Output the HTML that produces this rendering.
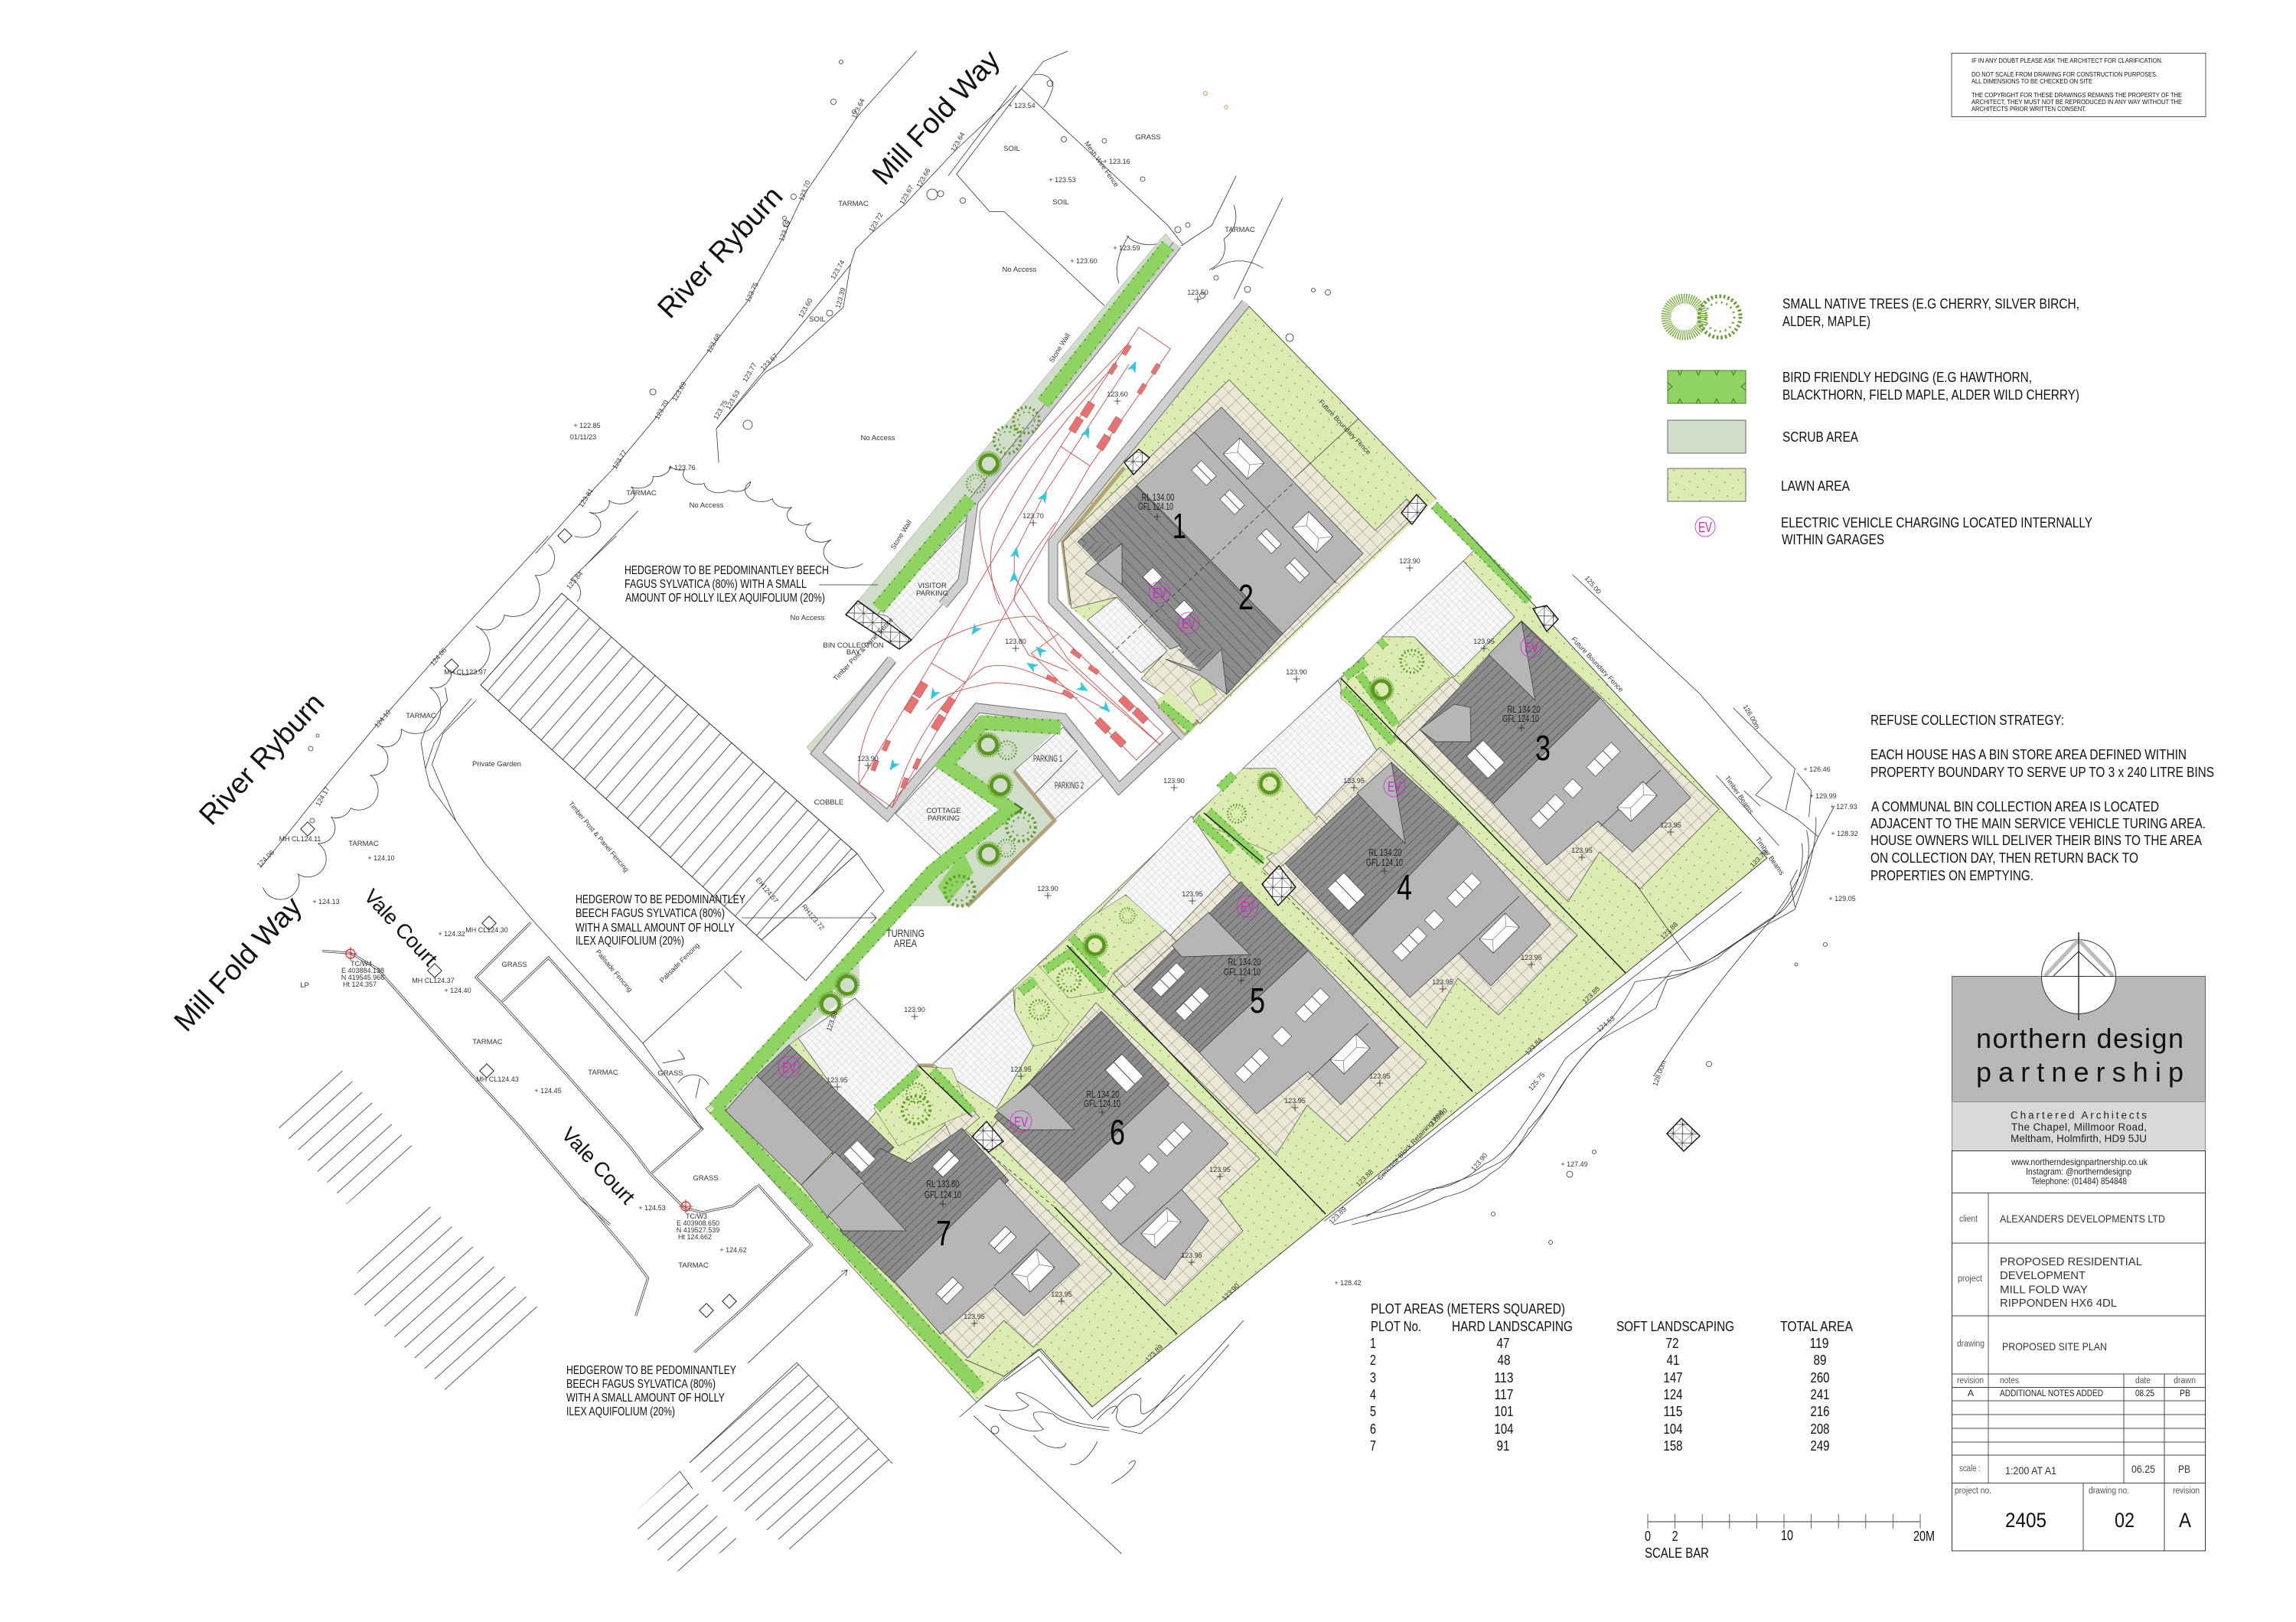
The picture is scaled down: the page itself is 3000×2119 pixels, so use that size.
<!DOCTYPE html>
<html lang="en"><head><meta charset="utf-8"><title>Proposed Site Plan</title>
<style>
html,body{margin:0;padding:0;background:#fff}
svg{display:block}
text{font-family:"Liberation Sans",sans-serif;fill:#111}
.s{font-size:9px;fill:#333;text-anchor:middle}
.t{font-size:9.5px;fill:#333;text-anchor:middle}
.rl{font-size:12.5px;fill:#222;text-anchor:middle}
.b{font-size:18.5px;fill:#111}
.c{font-size:16px;fill:#111}
.lb{font-size:11.5px;fill:#555}
.tt{font-size:14px;fill:#333}
.big{font-size:37.5px;fill:#111;text-anchor:middle}
.vc{font-size:27px;fill:#111;text-anchor:middle}
.num{font-size:46px;fill:#000;text-anchor:middle}
.ev{font-size:18px;fill:#d524c8;text-anchor:middle}
.l{fill:none;stroke:#333;stroke-width:.8;vector-effect:non-scaling-stroke}
.dk{fill:none;stroke:#333;stroke-width:3;vector-effect:non-scaling-stroke}
.dw{fill:none;stroke:#fff;stroke-width:1.5;vector-effect:non-scaling-stroke}
.r{fill:none;stroke:#d44a4a;stroke-width:.9;vector-effect:non-scaling-stroke}
.fence{fill:none;stroke:#111;stroke-width:1.4}
.thin{fill:none;stroke:#333;stroke-width:.8}
.wb{fill:none;stroke:#6e6e6e;stroke-width:13;stroke-linejoin:miter}
.wf{fill:none;stroke:#cfcfcf;stroke-width:11;stroke-linejoin:miter}
.li{fill:#b6b6b6;stroke:#333;stroke-width:.7}
.dr{fill:url(#sd);stroke:#333;stroke-width:.7}
.pv{fill:url(#pave);stroke:#444;stroke-width:.7}
.gr{fill:url(#grid);stroke:#444;stroke-width:.7}
.xh{fill:url(#xh);stroke:#111;stroke-width:1.4}
.evc{fill:none;stroke:#d524c8;stroke-width:.8}
</style></head><body>
<svg xmlns="http://www.w3.org/2000/svg" width="3000" height="2119" viewBox="0 0 3000 2119">
<defs>
<pattern id="lawn" width="18" height="18" patternUnits="userSpaceOnUse" patternTransform="rotate(-10)"><rect width="18" height="18" fill="#dcebb1"/><circle cx="4" cy="4" r=".9" fill="#6f9a4e"/><circle cx="13" cy="13" r=".9" fill="#6f9a4e"/></pattern>
<pattern id="pave" width="14" height="14" patternUnits="userSpaceOnUse" patternTransform="rotate(-44)"><rect width="14" height="14" fill="#ebe8d6"/><path d="M0 0H14M0 0V14" stroke="#6a6a6a" stroke-width=".7"/></pattern>
<pattern id="grid" width="7" height="7" patternUnits="userSpaceOnUse" patternTransform="rotate(-44)"><rect width="7" height="7" fill="#f8f8f8"/><path d="M0 0H7M0 0V7" stroke="#b4b4b4" stroke-width=".6"/></pattern>
<pattern id="sd" width="20" height="8" patternUnits="userSpaceOnUse" patternTransform="rotate(-44)"><rect width="20" height="8" fill="#8c8c8c"/><path d="M0 0H20" stroke="#3a3a3a" stroke-width="1"/></pattern>
<pattern id="se" width="20" height="11" patternUnits="userSpaceOnUse" patternTransform="rotate(46)"><rect width="20" height="11" fill="#8c8c8c"/><path d="M0 0H20" stroke="#3a3a3a" stroke-width="1"/></pattern>
<pattern id="ha" width="40" height="19" patternUnits="userSpaceOnUse" patternTransform="rotate(-42)"><path d="M0 9H40" stroke="#222" stroke-width=".8"/></pattern>
<pattern id="hb" width="40" height="19" patternUnits="userSpaceOnUse" patternTransform="rotate(-49)"><path d="M0 9H40" stroke="#222" stroke-width=".8"/></pattern>
<pattern id="xh" width="17" height="17" patternUnits="userSpaceOnUse" patternTransform="rotate(-44)"><rect width="17" height="17" fill="#fff"/><path d="M0 0L17 17M17 0L0 17M0 0H17M0 0V17" stroke="#222" stroke-width=".7"/></pattern>
<path id="p" d="M-4.5 0H4.5M0-4.5V4.5" stroke="#222" stroke-width=".8" fill="none"/>
<rect id="dm" x="-6.5" y="-6.5" width="13" height="13" fill="#fff" stroke="#222" transform="rotate(45)"/>
<g id="rt"><circle r="6" fill="none" stroke="#d22" stroke-width="1.2"/><path d="M-9 0H9M0-9V9" stroke="#d22" stroke-width="1"/></g>
<rect id="car" x="-10" y="-5" width="20" height="10" fill="#e57373" stroke="#c05050" stroke-width=".5"/>
<rect id="cs" x="-7" y="-3" width="14" height="6" fill="#e57373" stroke="#c05050" stroke-width=".5"/>
<path id="ar" d="M0-8L6 7L0 3L-6 7Z" fill="#2fcadb"/>
<g id="t1"><circle r="15" fill="none" stroke="#6aa62a" stroke-width="3.5" stroke-dasharray="1 1.2"/><circle r="11.5" fill="none" stroke="#5a9620" stroke-width="4.5"/></g>
<g id="t2"><circle r="14" fill="none" stroke="#5f9c2c" stroke-width="3" stroke-dasharray="2 2.6"/><circle r="9" fill="none" stroke="#6da53a" stroke-width="1.6" stroke-dasharray="2 3.5"/></g>
<g id="hip"><rect x="-24" y="-13" width="48" height="26" fill="#fff" stroke="#333" stroke-width=".7"/><path d="M-24-13L-12 0L-24 13M24-13L12 0L24 13M-12 0H12" stroke="#444" stroke-width=".5" fill="none"/></g>
<g id="rl2"><rect x="-14" y="-9" width="28" height="18" fill="#fff" stroke="#333" stroke-width=".6"/><path d="M-14 0H14" stroke="#333" stroke-width=".8"/></g>
<g id="rl3"><rect x="-23" y="-8.5" width="46" height="17" fill="#fff" stroke="#333" stroke-width=".6"/><path d="M-7.5-8.5V8.5M7.5-8.5V8.5" stroke="#333" stroke-width=".8"/></g>
<g id="rl1"><rect x="-9" y="-9" width="18" height="18" fill="#fff" stroke="#333" stroke-width=".6"/></g>
<g id="rld"><rect x="-20" y="-15" width="40" height="30" fill="#fff" stroke="#333" stroke-width=".6"/><path d="M-20 0H20" stroke="#333" stroke-width=".9"/></g>
<path id="hgA" d="M1526 321L1363 527M1268 652L1147 795M934 1448L1219 1138L1321 1057L1235 999L1284 944L1386 950M934 1448L1280 1815" fill="none"/>
<path id="hgB" d="M1146 1448L1200 1399M1219 1399L1270 1453M1334 1296L1353 1281M1366 1267L1404 1241M1394 1241L1442 1293M1400 1224L1445 1273M1563 1069L1611 1112M1579 1060L1649 1126M1594 1030L1612 1012M1755 901L1821 970M1758 884L1785 864M1776 881L1824 947M1803 844L1810 838M1517 920L1558 953M1874 660L1998 785" fill="none"/>
</defs>
<rect width="3000" height="2119" fill="#fff"/>

<!-- hatched neighbouring buildings -->
<polygon points="734,775 628,895 995,1228 1120,1115" fill="url(#hb)" stroke="#222" stroke-width=".9"/>
<path class="thin" d="M1120 1115L1155 1164L1053 1281L995 1228"/>
<polygon points="438,1389 355,1463 453,1573 539,1498" fill="url(#ha)"/>
<polygon points="551,1566 452,1680 593,1828 708,1713" fill="url(#ha)"/>
<polygon points="1041,1780 901,1911 1035,2027 1166,1912" fill="url(#ha)"/>
<polygon points="888,1922 821,1984 885,2053 968,2017" fill="url(#ha)"/>
<path class="thin" d="M1041 1780L1166 1912M901 1911L1041 1780M888 1922L905 1945"/>

<!-- survey lines, top -->
<g transform="translate(700 40) scale(.6378 .4464)">
<polyline class="l" points="780,60 660,250 545,490 505,610 435,790 355,935 280,1075 160,1280 90,1385 0,1530"/>
<polyline class="l" points="1090,60 1040,90 995,170 860,350 755,510 690,590 655,640 645,685 370,1165 375,1265"/>
<polyline class="l" points="645,685 630,810 510,965 470,1000 370,1165"/>
<polyline class="l" points="995,170 862,420 930,530 960,530 1165,805"/>
<polyline class="l" points="985,160 845,425"/>
<polyline class="l" points="995,170 1295,570 1325,625"/>
<polyline class="l" points="1435,425 1385,570 1322,630"/>
<polyline class="l" points="1530,490 1430,785"/>
<path class="l" d="M1020 130Q1055 120 1060 165Q1050 210 1040 225M1430 510Q1445 570 1410 610Q1420 670 1380 700M1385 700Q1440 650 1490 695M1215 600Q1180 680 1195 740M1210 600Q1240 640 1285 620"/>
<path class="l" d="M80 1480A30 30 0 0 0 110 1410A30 30 0 0 0 150 1375A30 30 0 0 0 195 1335A30 30 0 0 0 240 1305A30 30 0 0 0 275 1275A28 28 0 0 0 305 1285A30 30 0 0 0 345 1325A30 30 0 0 0 395 1345A30 30 0 0 0 440 1320A30 30 0 0 0 485 1370A30 30 0 0 0 525 1395A30 30 0 0 0 565 1440A30 30 0 0 0 605 1490A36 36 0 0 0 670 1560"/>
<polyline class="l" points="210,1405 100,1568"/>
</g>
<g fill="none" stroke="#333" stroke-width=".8">
<circle cx="1099" cy="81" r="2.5"/><circle cx="1089" cy="133" r="3.5"/><circle cx="1116" cy="146" r="2.5"/><circle cx="1037" cy="257" r="3.5"/><circle cx="1025" cy="285" r="2.5"/><circle cx="1027" cy="292" r="4"/><circle cx="1084" cy="409" r="4"/><circle cx="977" cy="555" r="6"/><circle cx="853" cy="512" r="4"/><circle cx="1218" cy="254" r="7"/><circle cx="1229" cy="253" r="4"/><circle cx="1258" cy="262" r="3.5"/><circle cx="1390" cy="182" r="3.5"/><circle cx="1443" cy="184" r="3"/><circle cx="1493" cy="234" r="3"/><circle cx="1539" cy="300" r="4"/><circle cx="1552" cy="294" r="3"/><circle cx="1372" cy="109" r="4"/><circle cx="1630" cy="378" r="4"/><circle cx="1685" cy="441" r="5"/><circle cx="408" cy="1072" r="3"/><circle cx="406" cy="978" r="3"/><circle cx="415" cy="961" r="2"/>
<circle cx="1571" cy="386" r="3.5"/><circle cx="1589" cy="363" r="3"/><circle cx="1716" cy="379" r="2.5"/><circle cx="1735" cy="382" r="3.5"/>
<circle cx="2233" cy="1390" r="3.5"/><circle cx="2051" cy="1534" r="4"/><circle cx="2083" cy="1505" r="2.5"/><circle cx="2026" cy="1623" r="2.5"/><circle cx="1951" cy="1586" r="2.5"/>
<circle cx="2385" cy="1234" r="2.5"/><circle cx="2347" cy="1260" r="2"/><circle cx="1300" cy="1868" r="5"/>
</g>
<circle cx="1575" cy="122" r="2.5" fill="none" stroke="#d09a40"/><circle cx="1602" cy="140" r="2.2" fill="none" stroke="#d09a40"/>

<!-- survey lines, left -->
<g transform="translate(200 700) scale(.574)">
<polyline class="l" points="900,0 633,290 505,435 370,598 245,755"/>
<path class="l" d="M250 800A40 40 0 0 0 330 770A38 38 0 0 0 375 700A36 36 0 0 0 405 640A36 36 0 0 0 450 620A44 44 0 0 0 495 545A36 36 0 0 0 510 475A36 36 0 0 0 565 440A50 50 0 0 0 630 345A40 40 0 0 0 680 310A56 56 0 0 0 735 205A40 40 0 0 0 800 180A60 60 0 0 0 870 90A40 40 0 0 0 900 20"/>
<path class="l" d="M950 100A30 30 0 0 1 965 150M950 100L1055 0"/>
<polyline class="dk" points="385,945 450,950 510,985 710,1210 835,1345 975,1510 1040,1568"/><polyline class="dw" points="385,945 450,950 510,985 710,1210 835,1345 975,1510 1040,1568"/>
<polyline class="dk" points="860,880 735,1005 790,1060 940,1225 1085,1390 1130,1450 1210,1530 1250,1540 1320,1525 1375,1480"/><polyline class="dw" points="860,880 735,1005 790,1060 940,1225 1085,1390 1130,1450 1210,1530 1250,1540 1320,1525 1375,1480"/>
<polyline class="dk" points="795,1060 900,960 985,1055 1140,1230 1250,1350 1135,1450"/><polyline class="dw" points="795,1060 900,960 985,1055 1140,1230 1250,1350 1135,1450"/>
<polyline class="l" points="725,370 640,470 620,530 630,570 690,650 755,745 860,870 1115,1155 1250,1350"/>
<polyline class="l" points="735,375 660,450 635,520 690,650"/>
<polyline class="l" points="665,345 670,375 620,440 610,470 620,530"/>
<polyline class="l" points="1115,1155 1340,945"/>
<polyline class="l" points="1300,990 1340,1030"/>
<path class="l" d="M1160 1200L1210 1190A50 50 0 0 0 1195 1170M1195 1245A40 40 0 0 1 1265 1250M1235 1280L1245 1235"/>
</g>
<g transform="translate(700 1500) scale(.6378 .3948)">
<polyline class="dk" points="95,165 195,355 230,430 205,555"/><polyline class="dw" points="95,165 195,355 230,430 205,555"/>
<polyline class="dk" points="455,120 565,320 520,385 425,530 325,675"/><polyline class="dw" points="455,120 565,320 520,385 425,530 325,675"/>
</g>

<!-- lawn areas -->
<polygon points="922,1448 1043,1356 1117,1304 1200,1390 1219,1390 1912,733 1925,720 1900,677 2309,1121 1427,1838 1360,1762 1312,1798 1276,1832" fill="url(#lawn)" stroke="#555" stroke-width=".7"/>
<polygon points="1633,400 1877,652 1568,948 1396,790 1385,708" fill="url(#lawn)"/>
<path class="thin" d="M1628 396L1877 652"/>

<!-- scrub -->
<polygon points="1523,305 1533,318 1268,650 1274,664 1147,802 1121,785" fill="#d0ddc9" stroke="#889" stroke-width=".5"/>
<polygon points="1281,938 1386,948 1325,1007 1378,1072 1264,1184 1187,1184 1123,1247 1123,1287 1031,1365 948,1451 925,1448 1219,1138 1321,1057 1235,999" fill="#d0ddc9"/>
<polygon points="1163,858 1171,866 1067,990 1054,976" fill="#d0ddc9" stroke="#889" stroke-width=".5"/>
<polygon points="1225,1158 1258,1112 1272,1140 1239,1180" fill="#8fd463"/>

<!-- driveways -->
<g class="gr">
<polygon points="1043,1356 1117,1304 1200,1390 1126,1474"/>
<polygon points="1219,1390 1324,1293 1326,1321 1350,1367 1302,1448"/>
<polygon points="1429,1198 1557,1066 1608,1141 1535,1230 1471,1169"/>
<polygon points="1624,1004 1748,889 1809,999 1721,1070 1667,1004"/>
<polygon points="1806,832 1912,733 1979,806 1900,884 1848,832"/>
<polygon points="1421,810 1459,780 1529,848 1491,879"/>
<polygon points="1274,667 1258,759 1191,836 1159,805 1147,802"/>
<polygon points="1198,1032 1230,999 1319,1057 1241,1129 1170,1063"/>
<polygon points="1325,1007 1389,950 1443,1012 1379,1070"/>
</g>
<path class="thin" d="M1352 1037L1408 980"/>

<!-- walls -->
<polyline class="wb" points="1538,320 1272,655 1258,759 1232,790"/><polyline class="wf" points="1538,320 1272,655 1258,759 1232,790"/>
<polyline class="wb" points="1165,862 1067,984 1159,1065 1277,925 1389,938 1462,1030 1541,956"/><polyline class="wf" points="1165,862 1067,984 1159,1065 1277,925 1389,938 1462,1030 1541,956"/>
<polyline class="wb" points="1628,396 1376,708 1376,785 1548,963"/><polyline class="wf" points="1628,396 1376,708 1376,785 1548,963"/>
<path d="M1469 611L1389 708L1399 790M1510 915L1548 958L1568 940M1281 938L1386 948M1325 1007L1378 1072L1264 1184M1200 1392L1220 1392M1366 1263L1404 1226M1340 1290L1351 1280M1563 1065L1595 1038M1758 884L1785 862" fill="none" stroke="#b3a27d" stroke-width="5"/>

<!-- paving -->
<g class="pv">
<polygon points="1606,496 1797,693 1838,652 1855,668 1568,945 1548,925 1491,887 1525,850 1459,780 1400,795 1389,708"/>
<polygon points="1988,811 2246,1057 2143,1161 2090,1113 2049,1178 1835,970"/>
<polygon points="1803,976 2061,1222 1958,1326 1905,1278 1864,1343 1650,1135"/>
<polygon points="1606,1142 1864,1388 1761,1492 1708,1444 1667,1509 1453,1301"/>
<polygon points="1432,1310 1646,1514 1592,1565 1624,1608 1522,1706 1290,1480"/>
<polygon points="1245,1460 1453,1664 1350,1760 1312,1725 1264,1774 1085,1590 1100,1500 1126,1475 1174,1525"/>
<polygon points="1897,884 1912,899 1835,972 1818,958"/>
<polygon points="1723,1066 1738,1082 1670,1135 1655,1120"/>
<polygon points="1522,1215 1537,1230 1470,1290 1455,1272"/>
<polygon points="1200,1395 1225,1400 1280,1460 1245,1490"/>
</g>
<polygon points="1555,897 1574,882 1590,907 1568,922" fill="#dcebb1" stroke="#444" stroke-width=".5"/>
<polygon points="1510,915 1529,902 1564,938 1548,958" fill="#dcebb1"/>
<polygon points="1142,1448 1200,1393 1244,1396 1267,1453 1238,1465 1174,1497" fill="url(#lawn)" stroke="#444" stroke-width=".5"/>
<polygon points="1326,1293 1346,1276 1397,1336 1381,1359 1350,1367 1326,1321" fill="url(#lawn)" stroke="#444" stroke-width=".5"/>
<polygon points="1356,1261 1426,1198 1471,1169 1522,1215 1455,1270 1442,1296 1397,1304" fill="url(#lawn)" stroke="#444" stroke-width=".5"/>
<polygon points="1624,1004 1667,1004 1721,1070 1667,1116 1558,1070" fill="url(#lawn)" stroke="#444" stroke-width=".5"/>
<polygon points="1752,887 1806,832 1848,832 1894,884 1830,941 1818,970 1752,912" fill="url(#lawn)" stroke="#444" stroke-width=".5"/>

<!-- hedges -->
<use href="#hgA" stroke="#8fd463" stroke-width="19"/><use href="#hgA" stroke="#43702a" stroke-width="19.5" stroke-dasharray="1.2 9"/><use href="#hgA" stroke="#8fd463" stroke-width="15"/>
<use href="#hgB" stroke="#8fd463" stroke-width="12"/><use href="#hgB" stroke="#43702a" stroke-width="12.5" stroke-dasharray="1.2 7"/><use href="#hgB" stroke="#8fd463" stroke-width="8.5"/>

<!-- roofs plots 1-2 -->
<polygon class="li" points="1596,532 1781,723 1676,828 1485,634"/>
<polygon points="1485,634 1676,828 1603,907 1408,708" fill="url(#se)" stroke="#333" stroke-width=".7"/>
<polygon class="li" points="1418,749 1434,736 1466,764 1542,843 1529,848 1459,777"/>
<polygon points="1408,708 1466,710 1434,736" fill="url(#sd)"/>
<polygon class="li" points="1466,710 1466,764 1434,736"/>
<polygon points="1539,848 1596,848 1568,876" fill="url(#sd)"/>
<polygon class="li" points="1523,861 1568,876 1596,848 1603,907 1568,882"/>
<path class="thin" d="M1561 565L1746 762M1775 547L1692 624"/><path class="thin" stroke-dasharray="6 4" d="M1689 632L1453 853"/>
<use href="#rl2" transform="translate(1573 618) rotate(46)"/><use href="#rl2" transform="translate(1610 656) rotate(46)"/><use href="#rl2" transform="translate(1658 707) rotate(46)"/><use href="#rl2" transform="translate(1695 745) rotate(46)"/>
<use href="#rl1" transform="translate(1506 754) rotate(46)"/><use href="#rl1" transform="translate(1547 797) rotate(46)"/>
<use href="#hip" transform="translate(1625 599) rotate(46) scale(.95 1.15)"/><use href="#hip" transform="translate(1715 695) rotate(46) scale(.95 1.15)"/>

<!-- plot 3 -->
<polygon class="dr" points="1855,953 1988,812 2091,912 1951,1050"/>
<polygon class="li" points="2091,912 2209,1042 2133,1113 2088,1073 2021,1130 1951,1050"/>
<polygon class="li" points="1945,855 1988,812 2006,915"/>
<polygon class="li" points="1855,953 1900,920 1921,924 1922,969 1876,969"/>
<path class="thin" d="M2170 1006L2091 1080"/>
<!-- plot 4 -->
<polygon class="dr" points="1679,1128 1818,996 1906,1076 1767,1222"/>
<polygon class="li" points="1906,1076 2026,1208 1948,1288 1906,1245 1842,1303 1767,1222"/>
<polygon class="li" points="1773,1036 1818,996 1836,1102"/>
<path class="thin" d="M1985 1171L1906 1245"/>
<!-- plot 5 -->
<polygon class="dr" points="1481,1293 1621,1152 1709,1242 1567,1375"/>
<polygon class="li" points="1709,1242 1827,1369 1752,1443 1709,1400 1642,1455 1567,1375"/>
<polygon class="li" points="1531,1235 1579,1192 1633,1247 1544,1250"/>
<path class="thin" d="M1788 1337L1709 1411"/>
<!-- plot 6 -->
<polygon class="dr" points="1299,1459 1439,1321 1528,1416 1391,1545"/>
<polygon class="li" points="1526,1418 1605,1494 1544,1554 1579,1594 1522,1672 1464,1626 1391,1545"/>
<polygon class="li" points="1302,1451 1346,1416 1404,1476 1334,1476"/>
<path class="thin" d="M1544 1554L1464 1626"/>
<!-- plot 7 -->
<polygon class="dr" points="989,1405 1031,1365 1168,1499 1123,1545"/>
<polygon class="dr" points="1098,1608 1168,1675 1318,1542 1257,1474 1190,1520 1150,1500 1100,1555"/>
<polygon class="li" points="948,1451 989,1405 1088,1505 1047,1548"/>
<polygon class="li" points="1047,1548 1091,1505 1130,1545 1082,1591"/>
<polygon class="li" points="1082,1588 1126,1545 1184,1608 1101,1608"/>
<polygon class="li" points="1306,1539 1411,1652 1338,1719 1299,1682 1229,1743 1169,1674"/>
<path class="thin" d="M1372 1611L1299 1680"/>

<!-- roof lights and hips -->
<g>
<use href="#rl3" transform="translate(2095 992) rotate(-45)"/><use href="#rl1" transform="translate(2055 1030) rotate(-45)"/><use href="#rl3" transform="translate(2022 1060) rotate(-45)"/><use href="#rld" transform="translate(1941 992) rotate(46)"/><use href="#hip" transform="translate(2139 1047) rotate(-45)"/>
<use href="#rl3" transform="translate(1913 1163) rotate(-45)"/><use href="#rl1" transform="translate(1874 1202) rotate(-45)"/><use href="#rl3" transform="translate(1842 1233) rotate(-45)"/><use href="#rld" transform="translate(1759 1165) rotate(46)"/><use href="#hip" transform="translate(1959 1219) rotate(-45)"/>
<use href="#rl3" transform="translate(1715 1313) rotate(-45)"/><use href="#rl1" transform="translate(1675 1354) rotate(-45)"/><use href="#rl3" transform="translate(1636 1392) rotate(-45)"/><use href="#rl3" transform="translate(1527 1280) rotate(-45)"/><use href="#rl3" transform="translate(1558 1311) rotate(-45)"/><use href="#hip" transform="translate(1764 1377) rotate(-45)"/>
<use href="#rl3" transform="translate(1535 1488) rotate(-45)"/><use href="#rl1" transform="translate(1501 1520) rotate(-45)"/><use href="#rl3" transform="translate(1461 1560) rotate(-45)"/><use href="#rld" transform="translate(1469 1402) rotate(46)"/><use href="#hip" transform="translate(1517 1604) rotate(-45)"/>
<use href="#rl2" transform="translate(1310 1620) rotate(-45) scale(1.1)"/><use href="#rl2" transform="translate(1241 1686) rotate(-45) scale(1.1)"/><use href="#rl2" transform="translate(1236 1520) rotate(-45) scale(1.1)"/><use href="#rld" transform="translate(1123 1511) rotate(46) scale(.85)"/><use href="#hip" transform="translate(1350 1660) rotate(-45) scale(.95 1.3)"/>
</g>

<!-- plot dividers -->
<path class="fence" d="M1200 1392L1270 1459M1378 1577L1538 1743M1394 1235L1732 1586M1573 1062L1651 1128M1761 1254L1924 1426M1752 886L2124 1271"/>
<path class="thin" stroke-dasharray="5 4" d="M1283 1499L1378 1577M1651 1140L1761 1254"/>
<path class="thin" d="M1900 677L2309 1121L1427 1838L1360 1762L1312 1798L1261 1776M2136 1153L2209 1256"/>

<!-- bin stores -->
<g class="xh">
<polygon points="1469,604 1488,587 1502,598 1481,620"/>
<polygon points="1831,670 1851,646 1864,660 1845,685"/>
<polygon points="2003,795 2021,791 2036,809 2021,825"/>
<polygon points="1649,1155 1671,1131 1693,1159 1670,1183"/>
<polygon points="1270,1485 1289,1465 1311,1491 1292,1505"/>
<polygon points="2178,1481 2197,1461 2221,1484 2200,1504"/>
<polygon points="1121,785 1191,836 1175,848 1105,803"/>
</g>

<!-- trees -->
<g>
<use href="#t1" x="1292" y="606"/><use href="#t2" transform="translate(1275 632) scale(.85)"/><use href="#t2" transform="translate(1316 575) scale(1.25)"/><use href="#t2" transform="translate(1341 549) scale(1.2)"/>
<use href="#t1" x="1291" y="973"/><use href="#t2" transform="translate(1316 980) scale(.85)"/><use href="#t1" x="1307" y="1026"/><use href="#t2" transform="translate(1334 1080) scale(1.35)"/><use href="#t1" x="1292" y="1116"/><use href="#t2" transform="translate(1315 1108) scale(.8)"/><use href="#t2" transform="translate(1254 1164) scale(1.4)"/>
<use href="#t1" x="1107" y="1287"/><use href="#t1" x="1085" y="1312"/>
<use href="#t2" transform="translate(1197 1428) scale(.9)"/><use href="#t2" transform="translate(1197 1450) scale(1.3)"/>
<use href="#t2" transform="translate(1358 1319) scale(.9)"/>
<use href="#t1" x="1431" y="1235"/><use href="#t2" transform="translate(1397 1280) scale(1.05)"/><use href="#t2" transform="translate(1473 1196) scale(.7)"/>
<use href="#t1" x="1659" y="1024"/><use href="#t2" transform="translate(1616 1063) scale(.85)"/>
<use href="#t1" x="1805" y="901"/><use href="#t2" transform="translate(1845 864) scale(1.05)"/>
</g>

<!-- swept paths -->
<g transform="translate(1000 300) scale(.6378 .5102)">
<polygon class="r" points="765,250 830,305 665,605 605,555"/>
<path class="r" d="M745 290C640 430 500 600 440 720C430 830 480 960 540 1090L620 1130"/>
<path class="r" d="M720 340C620 480 520 620 470 780C450 850 470 940 480 960"/>
<path class="r" d="M745 345L570 680L510 830L510 890L620 1100L810 1320"/>
<path class="r" d="M595 750C540 840 510 900 510 950C560 1060 700 1200 810 1320"/>
<path class="r" d="M605 555L340 1110M665 605L410 1160"/>
<polygon class="r" points="600,1035 815,1290 760,1358 545,1085"/>
<polygon class="r" points="340,1110 410,1160 260,1480 192,1420"/>
<path class="r" d="M192 1420C180 1250 300 1090 350 1060C420 1010 500 990 550 990L600 1035"/>
<path class="r" d="M260 1480C290 1350 350 1200 450 1120C490 1110 520 1115 610 1170L700 1230"/>
<path class="r" d="M330 1230C350 1200 380 1180 470 1160C520 1160 570 1175 640 1200"/>
</g>
<g>
<use href="#car" transform="translate(1421 535) rotate(-58)"/><use href="#car" transform="translate(1406 555) rotate(-58)"/><use href="#car" transform="translate(1457 555) rotate(-58)"/><use href="#car" transform="translate(1442 578) rotate(-58)"/><use href="#cs" transform="translate(1510 482) rotate(-58)"/><use href="#cs" transform="translate(1492 508) rotate(-58)"/><use href="#cs" transform="translate(1454 482) rotate(-58)"/><use href="#cs" transform="translate(1472 457) rotate(-58)"/>
<use href="#car" transform="translate(1203 901) rotate(-58)"/><use href="#car" transform="translate(1191 921) rotate(-58)"/><use href="#car" transform="translate(1239 921) rotate(-58)"/><use href="#car" transform="translate(1226 944) rotate(-58)"/><use href="#cs" transform="translate(1158 974) rotate(-65)"/><use href="#cs" transform="translate(1143 1000) rotate(-70)"/><use href="#cs" transform="translate(1198 998) rotate(-65)"/><use href="#cs" transform="translate(1182 1023) rotate(-70)"/>
<use href="#car" transform="translate(1472 919) rotate(45)"/><use href="#car" transform="translate(1490 935) rotate(45)"/><use href="#car" transform="translate(1441 948) rotate(45)"/><use href="#car" transform="translate(1461 966) rotate(45)"/><use href="#cs" transform="translate(1406 854) rotate(35)"/><use href="#cs" transform="translate(1429 875) rotate(35)"/><use href="#cs" transform="translate(1374 887) rotate(25)"/><use href="#cs" transform="translate(1395 907) rotate(30)"/>
<use href="#ar" transform="translate(1481 479) rotate(25)"/><use href="#ar" transform="translate(1420 565) rotate(25)"/><use href="#ar" transform="translate(1364 649) rotate(30)"/><use href="#ar" transform="translate(1327 722) rotate(10)"/><use href="#ar" transform="translate(1325 754)"/><use href="#ar" transform="translate(1274 823) rotate(215)"/><use href="#ar" transform="translate(1220 907) rotate(210)"/><use href="#ar" transform="translate(1167 1000) rotate(215)"/><use href="#ar" transform="translate(1359 850) rotate(-45)"/><use href="#ar" transform="translate(1348 870) rotate(-60)"/><use href="#ar" transform="translate(1415 899) rotate(120)"/><use href="#ar" transform="translate(1445 925) rotate(135)"/>
</g>

<!-- contours SE -->
<g transform="translate(1500 700) scale(.606 .574)">
<polyline class="l" points="1280,810 380,1560"/>
<path class="l" d="M1440 640C1445 720 1400 830 1395 850C1330 890 1280 910 1230 960C1150 1010 1090 1005 1050 1015C1030 1060 1000 1100 985 1115C950 1150 920 1170 900 1190C870 1240 850 1280 835 1300C780 1390 750 1420 725 1430C680 1470 640 1485 620 1485C560 1520 510 1540 490 1540L400 1568"/>
<path class="l" d="M1410 700C1420 780 1370 860 1340 875C1260 930 1170 1000 1120 1010L1095 1075C1040 1110 1000 1130 970 1150C940 1180 920 1210 905 1230C870 1290 840 1330 820 1350C790 1410 760 1440 740 1450C700 1490 660 1500 640 1505C590 1530 550 1540 525 1545L440 1568"/>
<path class="l" d="M1420 670C1440 760 1390 840 1360 860C1290 900 1210 990 1130 990C1090 1040 1030 1090 1000 1120C960 1160 920 1200 880 1270C850 1320 800 1400 760 1425C700 1460 640 1480 600 1490C550 1510 500 1530 470 1550"/>
<path class="l" d="M1445 685C1420 750 1380 830 1330 890C1260 980 1180 1080 1090 1230"/>
<polyline class="l" points="915,88 1190,360 1345,550 1310,590 1400,645 1445,685"/>
<polyline class="l" points="1262,392 1395,530 1375,625"/>
<polyline class="l" points="1225,545 1360,705"/>
<polyline class="l" points="1285,580 1320,615"/>
<polyline class="l" points="1400,540 1430,580 1425,640"/>
<polyline class="l" points="1480,615 1445,685"/>
<path class="l" d="M1395 845L1385 790L1400 760"/>
</g>
<g transform="translate(700 1500) scale(.6378 .3948)">
<polyline class="l" points="868,890 1030,665 1140,855"/>
<polyline class="l" points="897,885 1200,1342"/>
<polyline class="l" points="960,770 1030,690 1140,895 1240,760"/>
<path class="l" d="M920 850C960 880 1000 870 1010 850C960 800 990 790 1040 850C1080 900 1100 910 1175 925M950 880C960 920 1020 950 1040 930C1010 880 1010 860 1060 880C1070 900 1090 920 1175 935M1020 950C1040 1000 1090 1000 1085 975M1095 1045C1120 1060 1150 980 1150 970M1150 900C1170 860 1200 830 1190 880C1185 910 1210 940 1240 910C1280 850 1310 780 1330 750M1180 880C1200 830 1230 790 1240 830C1240 880 1230 910 1290 830C1340 770 1400 660 1450 570M1215 1045C1230 1020 1240 1040 1200 1090L1180 1110"/>
<path class="l" d="M1200 930L1240 945L1250 930C1300 880 1360 760 1420 650"/>
</g>

<!-- leaders -->
<path class="thin" d="M1070 764H1147M969 1199H1145M1138 1192L1145 1199L1138 1206M977 1781L1107 1659M1099 1661L1107 1659L1105 1667"/>

<!-- MH markers and targets -->
<g>
<use href="#dm" x="590" y="870"/><use href="#dm" x="402" y="1083"/><use href="#dm" x="639" y="1206"/><use href="#dm" x="568" y="1268"/><use href="#dm" x="636" y="1399"/><use href="#dm" x="738" y="700"/><use href="#dm" x="953" y="1700"/><use href="#dm" x="923" y="1712"/>
<use href="#rt" x="458" y="1246"/><use href="#rt" x="896" y="1576"/>
</g>

<!-- road names -->
<text class="big" transform="translate(950 338) rotate(-47)">River Ryburn</text>
<text class="big" transform="translate(1232 162) rotate(-47)">Mill Fold Way</text>
<text class="big" transform="translate(351 1000) rotate(-47)">River Ryburn</text>
<text class="big" transform="translate(320 1268) rotate(-47)">Mill Fold Way</text>
<text class="vc" transform="translate(517 1218) rotate(47)">Vale Court</text>
<text class="vc" transform="translate(775 1529) rotate(47)">Vale Court</text>

<!-- plot numbers -->
<text class="num" x="1541" y="703" textLength="18" lengthAdjust="spacingAndGlyphs">1</text>
<text class="num" x="1628" y="796" textLength="20" lengthAdjust="spacingAndGlyphs">2</text>
<text class="num" x="2016" y="993" textLength="20" lengthAdjust="spacingAndGlyphs">3</text>
<text class="num" x="1835" y="1175" textLength="20" lengthAdjust="spacingAndGlyphs">4</text>
<text class="num" x="1643" y="1323" textLength="20" lengthAdjust="spacingAndGlyphs">5</text>
<text class="num" x="1460" y="1495" textLength="20" lengthAdjust="spacingAndGlyphs">6</text>
<text class="num" x="1233" y="1627" textLength="20" lengthAdjust="spacingAndGlyphs">7</text>

<!-- EV -->
<g>
<circle class="evc" cx="1515" cy="774" r="14"/><text class="ev" x="1515" y="781" textLength="18" lengthAdjust="spacingAndGlyphs">EV</text>
<circle class="evc" cx="1553" cy="814" r="14"/><text class="ev" x="1553" y="821" textLength="18" lengthAdjust="spacingAndGlyphs">EV</text>
<circle class="evc" cx="2001" cy="845" r="14"/><text class="ev" x="2001" y="852" textLength="18" lengthAdjust="spacingAndGlyphs">EV</text>
<circle class="evc" cx="1822" cy="1027" r="14"/><text class="ev" x="1822" y="1034" textLength="18" lengthAdjust="spacingAndGlyphs">EV</text>
<circle class="evc" cx="1630" cy="1184" r="14"/><text class="ev" x="1630" y="1191" textLength="18" lengthAdjust="spacingAndGlyphs">EV</text>
<circle class="evc" cx="1334" cy="1465" r="14"/><text class="ev" x="1334" y="1472" textLength="18" lengthAdjust="spacingAndGlyphs">EV</text>
<circle class="evc" cx="1031" cy="1394" r="14"/><text class="ev" x="1031" y="1401" textLength="18" lengthAdjust="spacingAndGlyphs">EV</text>
</g>

<!-- RL labels -->
<g>
<text class="rl" x="1513" y="654" textLength="43" lengthAdjust="spacingAndGlyphs">RL 134.00</text><text class="rl" x="1510" y="666" textLength="46" lengthAdjust="spacingAndGlyphs">GFL 124.10</text><use href="#p" x="1512" y="675"/>
<text class="rl" x="1991" y="931" textLength="43" lengthAdjust="spacingAndGlyphs">RL 134.20</text><text class="rl" x="1987" y="943" textLength="48" lengthAdjust="spacingAndGlyphs">GFL 124.10</text><use href="#p" x="1988" y="951"/>
<text class="rl" x="1810" y="1118" textLength="43" lengthAdjust="spacingAndGlyphs">RL 134.20</text><text class="rl" x="1809" y="1131" textLength="48" lengthAdjust="spacingAndGlyphs">GFL 124.10</text><use href="#p" x="1809" y="1138"/>
<text class="rl" x="1626" y="1261" textLength="43" lengthAdjust="spacingAndGlyphs">RL 134.20</text><text class="rl" x="1623" y="1274" textLength="48" lengthAdjust="spacingAndGlyphs">GFL 124.10</text><use href="#p" x="1622" y="1281"/>
<text class="rl" x="1441" y="1434" textLength="43" lengthAdjust="spacingAndGlyphs">RL 134.20</text><text class="rl" x="1440" y="1446" textLength="48" lengthAdjust="spacingAndGlyphs">GFL 124.10</text><use href="#p" x="1440" y="1453"/>
<text class="rl" x="1232" y="1551" textLength="43" lengthAdjust="spacingAndGlyphs">RL 133.80</text><text class="rl" x="1232" y="1565" textLength="48" lengthAdjust="spacingAndGlyphs">GFL 124.10</text><use href="#p" x="1232" y="1573"/>
</g>

<!-- spot levels -->
<g>
<text class="s" x="1565" y="385">123.50</text><use href="#p" x="1565" y="391"/>
<text class="s" x="1460" y="518">123.60</text><use href="#p" x="1460" y="524"/>
<text class="s" x="1350" y="677">123.70</text><use href="#p" x="1350" y="683"/>
<text class="s" x="1327" y="841">123.80</text><use href="#p" x="1327" y="847"/>
<text class="s" x="1134" y="994">123.90</text><use href="#p" x="1134" y="1000"/>
<text class="s" x="1694" y="881">123.90</text><use href="#p" x="1694" y="887"/>
<text class="s" x="1534" y="1023">123.90</text><use href="#p" x="1534" y="1029"/>
<text class="s" x="1842" y="736">123.90</text><use href="#p" x="1842" y="742"/>
<text class="s" x="1939" y="841">123.95</text><use href="#p" x="1939" y="847"/>
<text class="s" x="1369" y="1164">123.90</text><use href="#p" x="1369" y="1170"/>
<text class="s" x="1195" y="1322">123.90</text><use href="#p" x="1195" y="1328"/>
<text class="s" x="1558" y="1171">123.95</text><use href="#p" x="1558" y="1177"/>
<text class="s" x="1769" y="1023">123.95</text><use href="#p" x="1769" y="1029"/>
<text class="s" x="1094" y="1414">123.95</text><use href="#p" x="1094" y="1420"/>
<text class="s" x="1334" y="1400">123.95</text><use href="#p" x="1334" y="1406"/>
<text class="s" x="2183" y="1081">123.95</text><use href="#p" x="2183" y="1087"/>
<text class="s" x="2067" y="1114">123.95</text><use href="#p" x="2067" y="1120"/>
<text class="s" x="2001" y="1254">123.95</text><use href="#p" x="2001" y="1260"/>
<text class="s" x="1885" y="1286">123.95</text><use href="#p" x="1885" y="1292"/>
<text class="s" x="1803" y="1409">123.95</text><use href="#p" x="1803" y="1415"/>
<text class="s" x="1692" y="1441">123.95</text><use href="#p" x="1692" y="1447"/>
<text class="s" x="1594" y="1531">123.95</text><use href="#p" x="1594" y="1537"/>
<text class="s" x="1557" y="1643">123.95</text><use href="#p" x="1557" y="1649"/>
<text class="s" x="1387" y="1694">123.95</text><use href="#p" x="1387" y="1700"/>
<text class="s" x="1273" y="1723">123.95</text><use href="#p" x="1273" y="1729"/>
</g>

<!-- small site text -->
<g>
<text class="t" x="1183" y="1224" style="font-size:14px" textLength="50" lengthAdjust="spacingAndGlyphs">TURNING</text><text class="t" x="1183" y="1237" style="font-size:14px" textLength="30" lengthAdjust="spacingAndGlyphs">AREA</text>
<text class="t" x="1369" y="995" style="font-size:12px" textLength="38" lengthAdjust="spacingAndGlyphs">PARKING 1</text>
<text class="t" x="1397" y="1030" style="font-size:12px" textLength="38" lengthAdjust="spacingAndGlyphs">PARKING 2</text>
<text class="t" x="1233" y="1062">COTTAGE</text><text class="t" x="1233" y="1072">PARKING</text>
<text class="t" x="1218" y="768">VISITOR</text><text class="t" x="1218" y="778">PARKING</text>
<text class="t" x="1115" y="846">BIN COLLECTION</text><text class="t" x="1115" y="855">BAY</text>
<text class="t" x="1322" y="197">SOIL</text><text class="t" x="1386" y="267">SOIL</text><text class="t" x="1115" y="269">TARMAC</text><text class="t" x="1500" y="182">GRASS</text><text class="t" x="1332" y="355">No Access</text><text class="t" x="1147" y="575">No Access</text><text class="t" x="923" y="663">No Access</text><text class="t" x="1055" y="810">No Access</text><text class="t" x="838" y="647">TARMAC</text><text class="t" x="1620" y="303">TARMAC</text><text class="t" x="1068" y="420">SOIL</text>
<text class="t" x="550" y="938">TARMAC</text><text class="t" x="649" y="1001">Private Garden</text><text class="t" x="475" y="1105">TARMAC</text><text class="t" x="672" y="1263">GRASS</text><text class="t" x="637" y="1364">TARMAC</text><text class="t" x="788" y="1404">TARMAC</text><text class="t" x="876" y="1405">GRASS</text><text class="t" x="922" y="1542">GRASS</text><text class="t" x="1083" y="1051">COBBLE</text><text class="t" x="906" y="1656">TARMAC</text><text class="t" x="398" y="1290">LP</text>
<text class="s" x="498" y="1124">+ 124.10</text><text class="s" x="426" y="1181">+ 124.13</text><text class="s" x="590" y="1223">+ 124.32</text><text class="s" x="598" y="1297">+ 124.40</text><text class="s" x="716" y="1428">+ 124.45</text><text class="s" x="852" y="1581">+ 124.53</text><text class="s" x="958" y="1636">+ 124.62</text>
<text class="s" x="1472" y="327">+ 123.59</text><text class="s" x="1416" y="344">+ 123.60</text><text class="s" x="1388" y="238">+ 123.53</text><text class="s" x="1459" y="214">+ 123.16</text><text class="s" x="1335" y="141">+ 123.54</text><text class="s" x="891" y="614">+ 123.76</text><text class="s" x="767" y="559">+ 122.85</text><text class="s" x="762" y="574">01/11/23</text>
<text class="s" x="608" y="881">MH CL123.97</text><text class="s" x="392" y="1099">MH CL124.11</text><text class="s" x="636" y="1218">MH CL124.30</text><text class="s" x="566" y="1284">MH CL124.37</text><text class="s" x="650" y="1413">MH CL124.43</text>
<text class="s" x="472" y="1262">TC/W4</text><text class="s" x="474" y="1271">E 403884.138</text><text class="s" x="474" y="1280">N 419545.966</text><text class="s" x="470" y="1289">Ht 124.357</text>
<text class="s" x="910" y="1592">TC/W3</text><text class="s" x="912" y="1601">E 403908.650</text><text class="s" x="912" y="1610">N 419527.539</text><text class="s" x="908" y="1619">Ht 124.662</text>
<text class="s" x="2374" y="1008">+ 126.46</text><text class="s" x="2382" y="1043">+ 129.99</text><text class="s" x="2409" y="1057">+ 127.93</text><text class="s" x="2410" y="1092">+ 128.32</text><text class="s" x="2407" y="1177">+ 129.05</text><text class="s" x="2057" y="1524">+ 127.49</text><text class="s" x="1761" y="1679">+ 128.42</text>
</g>
<g class="s">
<text class="s" transform="translate(1124 143) rotate(-65)">123.64</text><text class="s" transform="translate(1054 250) rotate(-70)">123.70</text><text class="s" transform="translate(1028 303) rotate(-70)">123.75</text><text class="s" transform="translate(985 383) rotate(-65)">123.75</text><text class="s" transform="translate(935 450) rotate(-60)">123.68</text><text class="s" transform="translate(890 513) rotate(-60)">123.69</text><text class="s" transform="translate(867 537) rotate(-60)">123.70</text><text class="s" transform="translate(812 602) rotate(-58)">123.77</text><text class="s" transform="translate(768 652) rotate(-58)">123.81</text>
<text class="s" transform="translate(1254 187) rotate(-60)">123.64</text><text class="s" transform="translate(1209 234) rotate(-60)">123.66</text><text class="s" transform="translate(1187 256) rotate(-60)">123.67</text><text class="s" transform="translate(1147 292) rotate(-60)">123.72</text><text class="s" transform="translate(1097 354) rotate(-60)">123.74</text><text class="s" transform="translate(1101 390) rotate(-75)">123.39</text><text class="s" transform="translate(1055 404) rotate(-60)">123.60</text><text class="s" transform="translate(1007 475) rotate(-45)">123.67</text><text class="s" transform="translate(982 488) rotate(-60)">123.77</text><text class="s" transform="translate(960 524) rotate(-60)">123.53</text><text class="s" transform="translate(944 537) rotate(-60)">123.75</text>
<text class="s" transform="translate(1437 216) rotate(55)">Mesh Wire Fence</text><text class="s" transform="translate(1387 456) rotate(-58)">Stone Wall</text>
<text class="s" transform="translate(1180 700) rotate(-58)">Stone Wall</text><text class="s" transform="translate(1130 850) rotate(-47)">Timber Post &amp; Panel Fence</text><text class="s" transform="translate(1845 1498) rotate(-47)">Concrete Block Retaining Wall</text><text class="s" transform="translate(2085 870) rotate(47)">Future Boundary Fence</text><text class="s" transform="translate(1755 560) rotate(47)">Future Boundary Fence</text><text class="s" transform="translate(2270 1040) rotate(55)">Timber Beams</text><text class="s" transform="translate(2310 1120) rotate(55)">Timber Beams</text>
<text class="s" transform="translate(2079 766) rotate(50)">125.00</text><text class="s" transform="translate(2286 938) rotate(60)">126.00m</text><text class="s" transform="translate(2171 1403) rotate(-70)">128.00m</text><text class="s" transform="translate(2300 1124) rotate(-45)">123.78</text>
<text class="s" transform="translate(1882 1461) rotate(-45)">123.90</text><text class="s" transform="translate(2006 1369) rotate(-45)">123.84</text><text class="s" transform="translate(2081 1302) rotate(-45)">123.85</text><text class="s" transform="translate(2183 1218) rotate(-45)">123.88</text><text class="s" transform="translate(1785 1541) rotate(-45)">123.88</text><text class="s" transform="translate(1610 1690) rotate(-45)">123.90</text><text class="s" transform="translate(1510 1770) rotate(-45)">123.89</text>
<text class="s" transform="translate(1750 1590) rotate(-45)">123.89</text><text class="s" transform="translate(1935 1520) rotate(-50)">123.90</text><text class="s" transform="translate(2010 1415) rotate(-50)">125.75</text><text class="s" transform="translate(2100 1340) rotate(-40)">124.53</text>
<text class="s" transform="translate(349 1124) rotate(-45)">124.06</text><text class="s" transform="translate(424 1042) rotate(-60)">124.17</text><text class="s" transform="translate(502 941) rotate(-50)">124.10</text><text class="s" transform="translate(575 860) rotate(-50)">124.06</text><text class="s" transform="translate(753 760) rotate(-50)">123.84</text>
<text class="s" transform="translate(1090 1335) rotate(-70)">123.88</text><text class="s" transform="translate(1060 1200) rotate(50)">RH123.72</text><text class="s" transform="translate(1000 1165) rotate(50)">EH124.57</text><text class="s" transform="translate(780 1095) rotate(50)">Timber Post &amp; Panel Fencing</text><text class="s" transform="translate(800 1270) rotate(50)">Palisade Fencing</text><text class="s" transform="translate(890 1260) rotate(-45)">Palisade Fencing</text>
</g>

<!-- hedgerow notes -->
<g>
<text class="c" x="816" y="750" textLength="267" lengthAdjust="spacingAndGlyphs">HEDGEROW TO BE PEDOMINANTLEY BEECH</text>
<text class="c" x="816" y="768" textLength="238" lengthAdjust="spacingAndGlyphs">FAGUS SYLVATICA (80%) WITH A SMALL</text>
<text class="c" x="817" y="786" textLength="261" lengthAdjust="spacingAndGlyphs">AMOUNT OF HOLLY ILEX AQUIFOLIUM (20%)</text>
<text class="c" x="752" y="1180" textLength="222" lengthAdjust="spacingAndGlyphs">HEDGEROW TO BE PEDOMINANTLEY</text>
<text class="c" x="752" y="1198" textLength="195" lengthAdjust="spacingAndGlyphs">BEECH FAGUS SYLVATICA (80%)</text>
<text class="c" x="752" y="1217" textLength="208" lengthAdjust="spacingAndGlyphs">WITH A SMALL AMOUNT OF HOLLY</text>
<text class="c" x="752" y="1234" textLength="142" lengthAdjust="spacingAndGlyphs">ILEX AQUIFOLIUM (20%)</text>
<text class="c" x="740" y="1795" textLength="222" lengthAdjust="spacingAndGlyphs">HEDGEROW TO BE PEDOMINANTLEY</text>
<text class="c" x="740" y="1813" textLength="195" lengthAdjust="spacingAndGlyphs">BEECH FAGUS SYLVATICA (80%)</text>
<text class="c" x="740" y="1831" textLength="207" lengthAdjust="spacingAndGlyphs">WITH A SMALL AMOUNT OF HOLLY</text>
<text class="c" x="740" y="1849" textLength="142" lengthAdjust="spacingAndGlyphs">ILEX AQUIFOLIUM (20%)</text>
</g>

<!-- legend -->
<g>
<circle cx="2201" cy="414" r="24" fill="none" stroke="#6aa62a" stroke-width="13" stroke-dasharray="1.2 1.6"/>
<circle cx="2247" cy="414" r="27" fill="none" stroke="#5f9c2c" stroke-width="5" stroke-dasharray="2.5 3"/>
<circle cx="2247" cy="414" r="19" fill="none" stroke="#6da53a" stroke-width="3" stroke-dasharray="2 5"/>
<rect x="2179" y="484" width="102" height="43" fill="#8fd463" stroke="#4f7d2e"/>
<path d="M2192 484l3 6l3-6M2216 484l3 6l3-6M2240 484l3 6l3-6M2262 484l3 6l3-6M2192 527l3-6l3 6M2216 527l3-6l3 6M2240 527l3-6l3 6M2262 527l3-6l3 6M2179 500l6 5l-6 5M2281 500l-6 5l6 5" fill="none" stroke="#43702a"/>
<rect x="2179" y="549" width="102" height="43" fill="#d0ddc9" stroke="#666"/>
<rect x="2179" y="612" width="102" height="43" fill="url(#lawn)" stroke="#666"/>
<ellipse cx="2228" cy="688" rx="13" ry="13" class="evc"/><text class="ev" x="2228" y="695" textLength="18" lengthAdjust="spacingAndGlyphs">EV</text>
<text class="b" x="2329" y="403" textLength="388" lengthAdjust="spacingAndGlyphs">SMALL NATIVE TREES (E.G CHERRY, SILVER BIRCH,</text>
<text class="b" x="2329" y="426" textLength="115" lengthAdjust="spacingAndGlyphs">ALDER, MAPLE)</text>
<text class="b" x="2329" y="499" textLength="326" lengthAdjust="spacingAndGlyphs">BIRD FRIENDLY HEDGING (E.G HAWTHORN,</text>
<text class="b" x="2329" y="522" textLength="388" lengthAdjust="spacingAndGlyphs">BLACKTHORN, FIELD MAPLE, ALDER WILD CHERRY)</text>
<text class="b" x="2329" y="577" textLength="99" lengthAdjust="spacingAndGlyphs">SCRUB AREA</text>
<text class="b" x="2327" y="641" textLength="90" lengthAdjust="spacingAndGlyphs">LAWN AREA</text>
<text class="b" x="2327" y="689" textLength="407" lengthAdjust="spacingAndGlyphs">ELECTRIC VEHICLE CHARGING LOCATED INTERNALLY</text>
<text class="b" x="2328" y="711" textLength="134" lengthAdjust="spacingAndGlyphs">WITHIN GARAGES</text>
</g>

<!-- note box -->
<rect x="2550" y="69.5" width="332" height="83" fill="#fff" stroke="#555" stroke-width="1"/>
<g fill="#222">
<text x="2576" y="82" textLength="250" lengthAdjust="spacingAndGlyphs" style="font-size:8.6px">IF IN ANY DOUBT PLEASE ASK THE ARCHITECT FOR CLARIFICATION.</text>
<text x="2576" y="100" textLength="243" lengthAdjust="spacingAndGlyphs" style="font-size:8.6px">DO NOT SCALE FROM DRAWING FOR CONSTRUCTION PURPOSES.</text>
<text x="2576" y="109" textLength="158" lengthAdjust="spacingAndGlyphs" style="font-size:8.6px">ALL DIMENSIONS TO BE CHECKED ON SITE</text>
<text x="2576" y="127" textLength="275" lengthAdjust="spacingAndGlyphs" style="font-size:8.6px">THE COPYRIGHT FOR THESE DRAWINGS REMAINS THE PROPERTY OF THE</text>
<text x="2576" y="136" textLength="275" lengthAdjust="spacingAndGlyphs" style="font-size:8.6px">ARCHITECT, THEY MUST NOT BE REPRODUCED IN ANY WAY WITHOUT THE</text>
<text x="2576" y="145" textLength="150" lengthAdjust="spacingAndGlyphs" style="font-size:8.6px">ARCHITECTS PRIOR WRITTEN CONSENT.</text>
</g>

<!-- refuse -->
<g>
<text class="b" x="2444" y="947" textLength="253" lengthAdjust="spacingAndGlyphs">REFUSE COLLECTION STRATEGY:</text>
<text class="b" x="2444" y="992" textLength="413" lengthAdjust="spacingAndGlyphs">EACH HOUSE HAS A BIN STORE AREA DEFINED WITHIN</text>
<text class="b" x="2444" y="1015" textLength="449" lengthAdjust="spacingAndGlyphs">PROPERTY BOUNDARY TO SERVE UP TO 3 x 240 LITRE BINS</text>
<text class="b" x="2445" y="1060" textLength="376" lengthAdjust="spacingAndGlyphs">A COMMUNAL BIN COLLECTION AREA IS LOCATED</text>
<text class="b" x="2444" y="1082" textLength="438" lengthAdjust="spacingAndGlyphs">ADJACENT TO THE MAIN SERVICE VEHICLE TURING AREA.</text>
<text class="b" x="2444" y="1104" textLength="433" lengthAdjust="spacingAndGlyphs">HOUSE OWNERS WILL DELIVER THEIR BINS TO THE AREA</text>
<text class="b" x="2444" y="1127" textLength="350" lengthAdjust="spacingAndGlyphs">ON COLLECTION DAY, THEN RETURN BACK TO</text>
<text class="b" x="2444" y="1150" textLength="213" lengthAdjust="spacingAndGlyphs">PROPERTIES ON EMPTYING.</text>
</g>

<!-- plot table -->
<g>
<text class="b" x="1791" y="1716" textLength="254" lengthAdjust="spacingAndGlyphs">PLOT AREAS (METERS SQUARED)</text>
<text class="b" x="1791" y="1739" textLength="66" lengthAdjust="spacingAndGlyphs">PLOT No.</text>
<text class="b" x="1897" y="1739" textLength="158" lengthAdjust="spacingAndGlyphs">HARD LANDSCAPING</text>
<text class="b" x="2112" y="1739" textLength="154" lengthAdjust="spacingAndGlyphs">SOFT LANDSCAPING</text>
<text class="b" x="2326" y="1739" textLength="95" lengthAdjust="spacingAndGlyphs">TOTAL AREA</text>
<g text-anchor="middle">
<text class="b" x="1794" y="1761" textLength="8" lengthAdjust="spacingAndGlyphs">1</text><text class="b" x="1964" y="1761" textLength="17" lengthAdjust="spacingAndGlyphs">47</text><text class="b" x="2185" y="1761" textLength="17" lengthAdjust="spacingAndGlyphs">72</text><text class="b" x="2377" y="1761" textLength="25" lengthAdjust="spacingAndGlyphs">119</text>
<text class="b" x="1794" y="1783" textLength="8" lengthAdjust="spacingAndGlyphs">2</text><text class="b" x="1965" y="1783" textLength="17" lengthAdjust="spacingAndGlyphs">48</text><text class="b" x="2186" y="1783" textLength="17" lengthAdjust="spacingAndGlyphs">41</text><text class="b" x="2378" y="1783" textLength="17" lengthAdjust="spacingAndGlyphs">89</text>
<text class="b" x="1794" y="1806" textLength="8" lengthAdjust="spacingAndGlyphs">3</text><text class="b" x="1965" y="1806" textLength="25" lengthAdjust="spacingAndGlyphs">113</text><text class="b" x="2186" y="1806" textLength="25" lengthAdjust="spacingAndGlyphs">147</text><text class="b" x="2378" y="1806" textLength="25" lengthAdjust="spacingAndGlyphs">260</text>
<text class="b" x="1794" y="1828" textLength="8" lengthAdjust="spacingAndGlyphs">4</text><text class="b" x="1965" y="1828" textLength="25" lengthAdjust="spacingAndGlyphs">117</text><text class="b" x="2186" y="1828" textLength="25" lengthAdjust="spacingAndGlyphs">124</text><text class="b" x="2378" y="1828" textLength="25" lengthAdjust="spacingAndGlyphs">241</text>
<text class="b" x="1794" y="1850" textLength="8" lengthAdjust="spacingAndGlyphs">5</text><text class="b" x="1965" y="1850" textLength="25" lengthAdjust="spacingAndGlyphs">101</text><text class="b" x="2186" y="1850" textLength="25" lengthAdjust="spacingAndGlyphs">115</text><text class="b" x="2378" y="1850" textLength="25" lengthAdjust="spacingAndGlyphs">216</text>
<text class="b" x="1794" y="1873" textLength="8" lengthAdjust="spacingAndGlyphs">6</text><text class="b" x="1965" y="1873" textLength="25" lengthAdjust="spacingAndGlyphs">104</text><text class="b" x="2186" y="1873" textLength="25" lengthAdjust="spacingAndGlyphs">104</text><text class="b" x="2378" y="1873" textLength="25" lengthAdjust="spacingAndGlyphs">208</text>
<text class="b" x="1794" y="1895" textLength="8" lengthAdjust="spacingAndGlyphs">7</text><text class="b" x="1964" y="1895" textLength="17" lengthAdjust="spacingAndGlyphs">91</text><text class="b" x="2186" y="1895" textLength="25" lengthAdjust="spacingAndGlyphs">158</text><text class="b" x="2378" y="1895" textLength="25" lengthAdjust="spacingAndGlyphs">249</text>
</g>
</g>

<!-- scale bar -->
<path d="M2153 1988H2509" stroke="#777" stroke-width="1.4" fill="none"/>
<path d="M2153 1978V1997M2188.6 1978V1997M2224.2 1978V1997M2259.8 1978V1997M2295.4 1978V1997M2331 1978V1997M2366.6 1978V1997M2402.2 1978V1997M2437.8 1978V1997M2473.4 1978V1997M2509 1978V1997" stroke="#555" stroke-width=".9" fill="none"/>
<text class="b" x="2149" y="2013" textLength="8" lengthAdjust="spacingAndGlyphs">0</text><text class="b" x="2184.6" y="2013" textLength="8" lengthAdjust="spacingAndGlyphs">2</text><text class="b" x="2327" y="2012" textLength="16" lengthAdjust="spacingAndGlyphs">10</text><text class="b" x="2500" y="2013" textLength="28" lengthAdjust="spacingAndGlyphs">20M</text>
<text class="b" x="2149" y="2035" textLength="84" lengthAdjust="spacingAndGlyphs">SCALE BAR</text>

<!-- title block -->
<rect x="2550.5" y="1275.5" width="331" height="164" fill="#b8b8b8" stroke="#666"/>
<rect x="2550.5" y="1439.5" width="331" height="64" fill="#d9d9d9" stroke="#888"/>
<rect x="2550.5" y="1503.5" width="331" height="522.5" fill="#fff" stroke="#333"/>
<circle cx="2716" cy="1276" r="48.5" fill="#fff" stroke="#333" stroke-width="1"/>
<path d="M2672 1275L2716 1228L2761 1275" fill="none" stroke="#bdbdbd" stroke-width="5"/>
<path d="M2683 1275L2716 1243L2750 1275" fill="none" stroke="#222" stroke-width="1"/>
<path d="M2667 1275.5H2765" stroke="#333" stroke-width="1"/>
<path d="M2716 1218V1333" stroke="#222" stroke-width="1.4"/>
<text x="2582" y="1369" style="font-size:36px" fill="#111" textLength="271">northern design</text>
<text x="2582" y="1413" style="font-size:36px" fill="#111" textLength="271">partnership</text>
<g class="tt">
<text x="2627" y="1461.5" textLength="178" style="font-size:13.5px;fill:#222">Chartered Architects</text>
<text x="2628" y="1477" textLength="177" style="font-size:13.5px;fill:#222">The Chapel, Millmoor Road,</text>
<text x="2627" y="1492" textLength="178" style="font-size:13.5px;fill:#222">Meltham, Holmfirth, HD9 5JU</text>
<text x="2628" y="1522" textLength="178" lengthAdjust="spacingAndGlyphs" style="font-size:12px;fill:#222">www.northerndesignpartnership.co.uk</text>
<text x="2647" y="1534.5" textLength="138" lengthAdjust="spacingAndGlyphs" style="font-size:12px;fill:#222">Instagram: @northerndesignp</text>
<text x="2654" y="1547" textLength="125" lengthAdjust="spacingAndGlyphs" style="font-size:12px;fill:#222">Telephone: (01484) 854848</text>
</g>
<path d="M2550 1558.5H2882M2550 1624H2882M2550 1719H2882M2550 1795H2882M2550 1812.5H2882M2550 1830H2882M2550 1848H2882M2550 1866H2882M2550 1884H2882M2550 1901H2882M2550 1937.5H2882" stroke="#444" stroke-width=".9" fill="none"/>
<path d="M2598 1558.5V1937.5" stroke="#444" stroke-width=".9" fill="none"/>
<path d="M2775 1795V1937.5M2828 1795V2026M2722 1937.5V2026" stroke="#444" stroke-width="1" fill="none"/>
<text class="lb" x="2560" y="1596" textLength="24" lengthAdjust="spacingAndGlyphs">client</text>
<text class="tt" x="2613" y="1597" textLength="216" lengthAdjust="spacingAndGlyphs">ALEXANDERS DEVELOPMENTS LTD</text>
<text class="lb" x="2558" y="1674" textLength="32" lengthAdjust="spacingAndGlyphs">project</text>
<text class="tt" x="2613" y="1653" textLength="186" lengthAdjust="spacingAndGlyphs" style="font-size:15px">PROPOSED RESIDENTIAL</text>
<text class="tt" x="2613" y="1671" textLength="112" lengthAdjust="spacingAndGlyphs" style="font-size:15px">DEVELOPMENT</text>
<text class="tt" x="2613" y="1689.5" textLength="115" lengthAdjust="spacingAndGlyphs" style="font-size:15px">MILL FOLD WAY</text>
<text class="tt" x="2613" y="1707" textLength="153" lengthAdjust="spacingAndGlyphs" style="font-size:15px">RIPPONDEN HX6 4DL</text>
<text class="lb" x="2557" y="1759" textLength="36" lengthAdjust="spacingAndGlyphs">drawing</text>
<text class="tt" x="2616" y="1764" textLength="137" lengthAdjust="spacingAndGlyphs">PROPOSED SITE PLAN</text>
<text class="lb" x="2557" y="1807" textLength="35" lengthAdjust="spacingAndGlyphs">revision</text>
<text class="lb" x="2613" y="1807" textLength="25" lengthAdjust="spacingAndGlyphs">notes</text>
<text class="lb" x="2790" y="1807" textLength="20" lengthAdjust="spacingAndGlyphs">date</text>
<text class="lb" x="2840" y="1807" textLength="29" lengthAdjust="spacingAndGlyphs">drawn</text>
<text class="lb" x="2571" y="1824" style="fill:#222" textLength="8" lengthAdjust="spacingAndGlyphs">A</text>
<text class="lb" x="2613" y="1824" style="fill:#222" textLength="135" lengthAdjust="spacingAndGlyphs">ADDITIONAL NOTES ADDED</text>
<text class="lb" x="2790" y="1824" style="fill:#222" textLength="25" lengthAdjust="spacingAndGlyphs">08.25</text>
<text class="lb" x="2848" y="1824" style="fill:#222" textLength="14" lengthAdjust="spacingAndGlyphs">PB</text>
<text class="lb" x="2560" y="1922" textLength="28" lengthAdjust="spacingAndGlyphs">scale :</text>
<text class="tt" x="2620" y="1926" textLength="67" lengthAdjust="spacingAndGlyphs">1:200 AT A1</text>
<text class="tt" x="2785" y="1924" textLength="31" lengthAdjust="spacingAndGlyphs">06.25</text>
<text class="tt" x="2846" y="1924" textLength="16" lengthAdjust="spacingAndGlyphs">PB</text>
<text class="lb" x="2554" y="1951" textLength="48" lengthAdjust="spacingAndGlyphs">project no.</text>
<text class="lb" x="2729" y="1951" textLength="53" lengthAdjust="spacingAndGlyphs">drawing no.</text>
<text class="lb" x="2839" y="1951" textLength="35" lengthAdjust="spacingAndGlyphs">revision</text>
<text x="2620" y="1995" style="font-size:27px" textLength="54" lengthAdjust="spacingAndGlyphs">2405</text>
<text x="2763" y="1995" style="font-size:27px" textLength="26" lengthAdjust="spacingAndGlyphs">02</text>
<text x="2847" y="1995" style="font-size:27px" textLength="16" lengthAdjust="spacingAndGlyphs">A</text>
</svg>
</body></html>
